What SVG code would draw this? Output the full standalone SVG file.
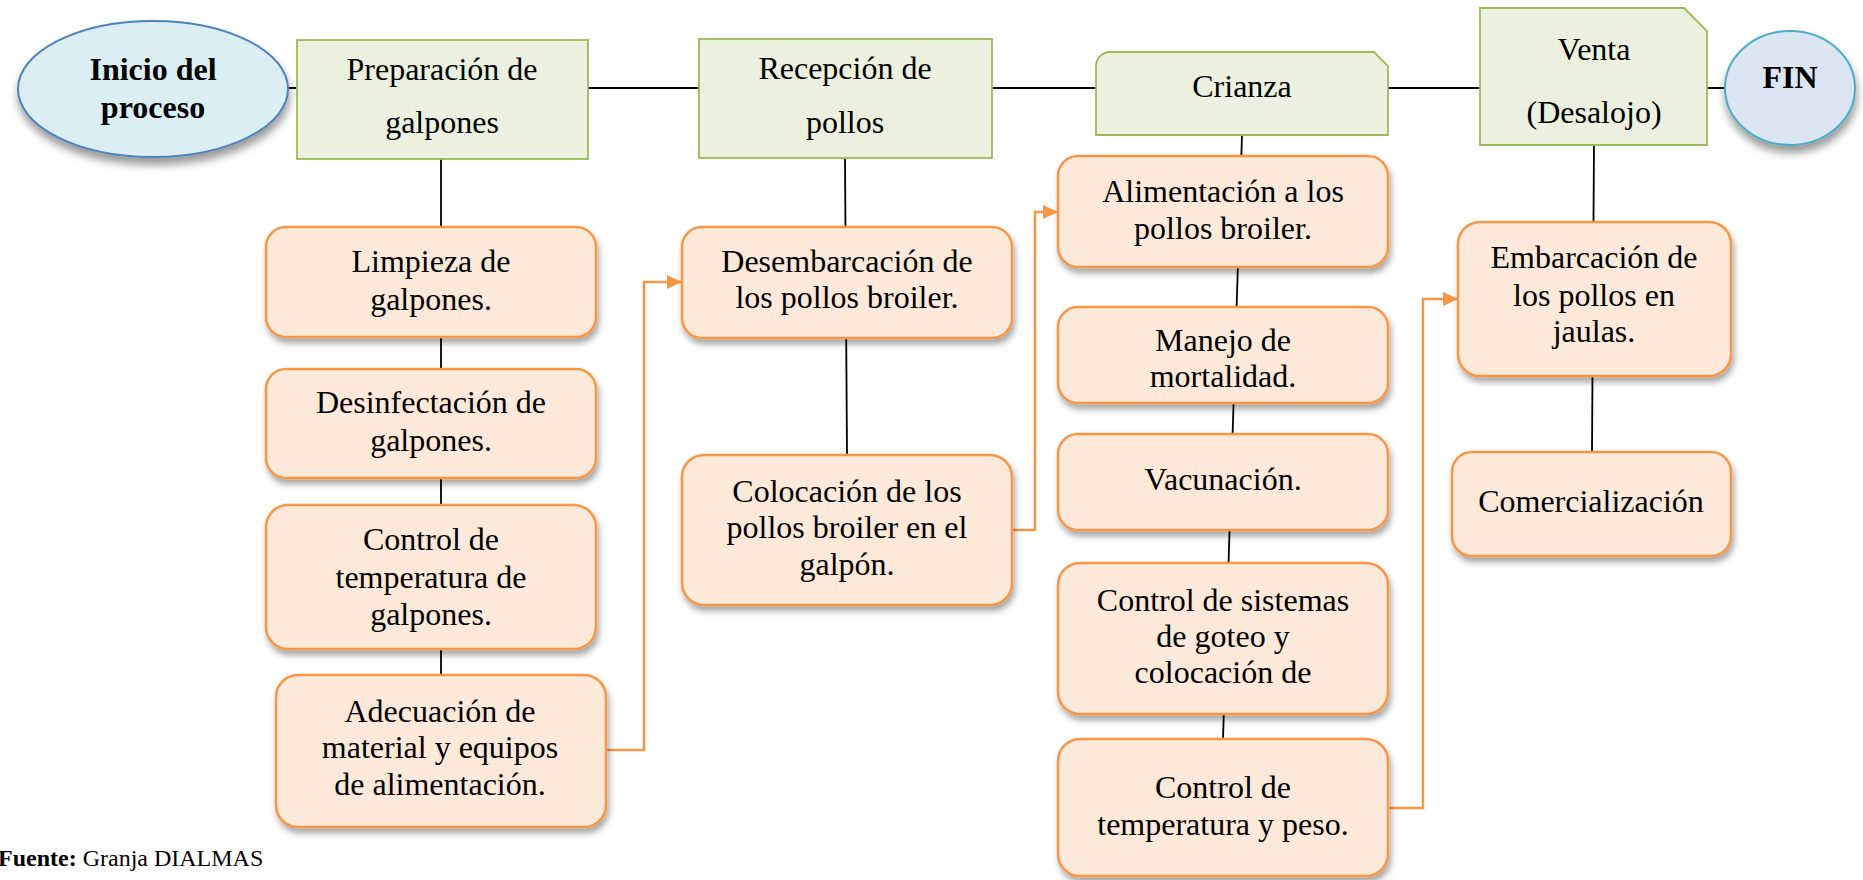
<svg xmlns="http://www.w3.org/2000/svg" width="1863" height="880" viewBox="0 0 1863 880">
<style>
.t{font-family:"Liberation Serif","Times New Roman",serif;font-size:32px;fill:#000;text-anchor:middle}
.b{font-weight:bold}
.step{fill:#fde9d9;stroke:#f79646;stroke-width:2.5;filter:url(#sh)}
.phase{fill:#ebf1de;stroke:#9bbb59;stroke-width:1.8}
.ln{stroke:#000;stroke-width:1.8;fill:none}
.or{stroke:#f79646;stroke-width:2.5;fill:none;marker-end:url(#ah)}
</style>
<defs>
<filter id="sh" x="-10%" y="-10%" width="125%" height="135%">
<feDropShadow dx="2" dy="5" stdDeviation="3" flood-color="#000" flood-opacity="0.35"/>
</filter>
<filter id="sh2" x="-10%" y="-10%" width="125%" height="135%">
<feDropShadow dx="1" dy="7" stdDeviation="4" flood-color="#000" flood-opacity="0.4"/>
</filter>
<marker id="ah" viewBox="0 0 15 14" markerWidth="15" markerHeight="14" refX="15" refY="7" orient="auto" markerUnits="userSpaceOnUse">
<path d="M0 0 L15 7 L0 14 Z" fill="#f79646"/>
</marker>
</defs>

<g id="connectors">
<line class="ln" x1="289" y1="88" x2="1724" y2="88"/>
<line class="ln" x1="441" y1="159" x2="441" y2="675"/>
<line class="ln" x1="845" y1="158" x2="847" y2="455"/>
<line class="ln" x1="1242" y1="135" x2="1223" y2="739"/>
<line class="ln" x1="1594" y1="145" x2="1592" y2="452"/>
<path class="or" d="M606 750 H644 V282 H682"/>
<path class="or" d="M1012 530 H1035 V212 H1058"/>
<path class="or" d="M1388 808 H1423 V299 H1458"/>
</g>

<g id="inicio">
<ellipse cx="153" cy="89" rx="135" ry="68" fill="#daeef3" stroke="#4f81bd" stroke-width="2" filter="url(#sh2)"/>
<text class="t b" x="153" y="80" font-size="31">Inicio del</text>
<text class="t b" x="153" y="118" font-size="31">proceso</text>
</g>

<g id="preparacion">
<rect class="phase" x="297" y="40" width="291" height="119"/>
<text class="t" x="442" y="80">Preparación de</text>
<text class="t" x="442" y="133">galpones</text>
</g>

<g id="recepcion">
<rect class="phase" x="699" y="39" width="293" height="119"/>
<text class="t" x="845" y="79">Recepción de</text>
<text class="t" x="845" y="133">pollos</text>
</g>

<g id="crianza">
<path class="phase" d="M1096 135 V66 A14 14 0 0 1 1110 52 H1374 L1388 66 V135 Z"/>
<text class="t" x="1242" y="97">Crianza</text>
</g>

<g id="venta">
<path class="phase" d="M1480 8 H1684 L1707 31 V145 H1480 Z"/>
<text class="t" x="1594" y="60">Venta</text>
<text class="t" x="1594" y="123">(Desalojo)</text>
</g>

<g id="fin">
<ellipse cx="1790" cy="88" rx="65" ry="57" fill="#dce6f2" stroke="#4bacc6" stroke-width="2" filter="url(#sh2)"/>
<text class="t b" x="1790" y="88" font-size="30">FIN</text>
</g>

<g id="limpieza">
<rect class="step" x="266" y="227" width="330" height="110" rx="20"/>
<text class="t" x="431" y="272">Limpieza de</text>
<text class="t" x="431" y="310">galpones.</text>
</g>

<g id="desinfectacion">
<rect class="step" x="266" y="369" width="330" height="109" rx="20"/>
<text class="t" x="431" y="413">Desinfectación de</text>
<text class="t" x="431" y="451">galpones.</text>
</g>

<g id="control-temp-galpones">
<rect class="step" x="266" y="505" width="330" height="144" rx="22"/>
<text class="t" x="431" y="550">Control de</text>
<text class="t" x="431" y="588">temperatura de</text>
<text class="t" x="431" y="625">galpones.</text>
</g>

<g id="adecuacion">
<rect class="step" x="276" y="675" width="330" height="152" rx="22"/>
<text class="t" x="440" y="722">Adecuación de</text>
<text class="t" x="440" y="758">material y equipos</text>
<text class="t" x="440" y="795">de alimentación.</text>
</g>

<g id="desembarcacion">
<rect class="step" x="682" y="227" width="330" height="111" rx="20"/>
<text class="t" x="847" y="272">Desembarcación de</text>
<text class="t" x="847" y="308">los pollos broiler.</text>
</g>

<g id="colocacion">
<rect class="step" x="682" y="455" width="330" height="150" rx="22"/>
<text class="t" x="847" y="502">Colocación de los</text>
<text class="t" x="847" y="538">pollos broiler en el</text>
<text class="t" x="847" y="575">galpón.</text>
</g>

<g id="alimentacion">
<rect class="step" x="1058" y="156" width="330" height="111" rx="20"/>
<text class="t" x="1223" y="202">Alimentación a los</text>
<text class="t" x="1223" y="239">pollos broiler.</text>
</g>

<g id="manejo">
<rect class="step" x="1058" y="307" width="330" height="96" rx="20"/>
<text class="t" x="1223" y="351">Manejo de</text>
<text class="t" x="1223" y="387">mortalidad.</text>
</g>

<g id="vacunacion">
<rect class="step" x="1058" y="434" width="330" height="96" rx="20"/>
<text class="t" x="1223" y="490">Vacunación.</text>
</g>

<g id="control-sistemas">
<rect class="step" x="1058" y="563" width="330" height="151" rx="22"/>
<text class="t" x="1223" y="611">Control de sistemas</text>
<text class="t" x="1223" y="647">de goteo y</text>
<text class="t" x="1223" y="683">colocación de</text>
</g>

<g id="control-temp-peso">
<rect class="step" x="1058" y="739" width="330" height="137" rx="22"/>
<text class="t" x="1223" y="798">Control de</text>
<text class="t" x="1223" y="835">temperatura y peso.</text>
</g>

<g id="embarcacion">
<rect class="step" x="1458" y="222" width="273" height="154" rx="22"/>
<text class="t" x="1594" y="268">Embarcación de</text>
<text class="t" x="1594" y="306">los pollos en</text>
<text class="t" x="1594" y="342">jaulas.</text>
</g>

<g id="comercializacion">
<rect class="step" x="1452" y="452" width="279" height="104" rx="20"/>
<text class="t" x="1591" y="512">Comercialización</text>
</g>

<text x="-2" y="866" font-family="'Liberation Serif','Times New Roman',serif" font-size="24"><tspan font-weight="bold">Fuente:</tspan> Granja DIALMAS</text>
</svg>
